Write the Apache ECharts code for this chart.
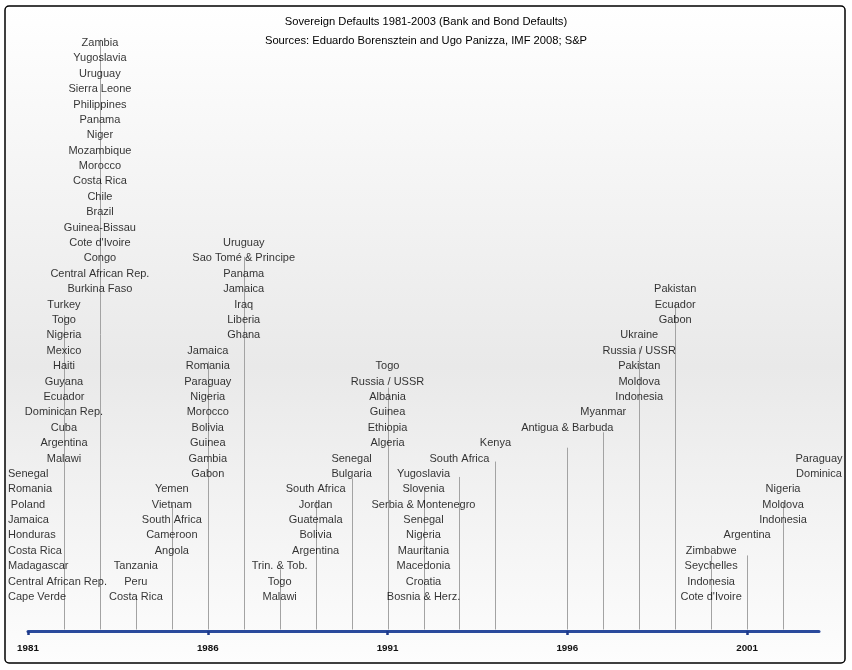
<!DOCTYPE html>
<html>
<head>
<meta charset="utf-8">
<title>Sovereign Defaults 1981-2003</title>
<script src="https://cdn.jsdelivr.net/npm/echarts@6/dist/echarts.min.js"></script>
<style>
  html, body { margin: 0; padding: 0; background: #fff; }
  #chart { width: 852px; height: 670px; }
</style>
</head>
<body>
<div id="chart"></div>
<script>
// years on the timeline
var years = [1981, 1982, 1983, 1984, 1985, 1986, 1987, 1988, 1989, 1990, 1991,
  1992, 1993, 1994, 1995, 1996, 1997, 1998, 1999, 2000, 2001, 2002, 2003];

// countries defaulting in each year, listed top to bottom as they are stacked
var defaults = [
  ['Senegal', 'Romania', 'Poland', 'Jamaica', 'Honduras', 'Costa Rica', 'Madagascar', 'Central African Rep.', 'Cape Verde'],
  ['Turkey', 'Togo', 'Nigeria', 'Mexico', 'Haiti', 'Guyana', 'Ecuador', 'Dominican Rep.', 'Cuba', 'Argentina', 'Malawi'],
  ['Zambia', 'Yugoslavia', 'Uruguay', 'Sierra Leone', 'Philippines', 'Panama', 'Niger', 'Mozambique', 'Morocco', 'Costa Rica',
   'Chile', 'Brazil', 'Guinea-Bissau', "Cote d'Ivoire", 'Congo', 'Central African Rep.', 'Burkina Faso'],
  ['Tanzania', 'Peru', 'Costa Rica'],
  ['Yemen', 'Vietnam', 'South Africa', 'Cameroon', 'Angola'],
  ['Jamaica', 'Romania', 'Paraguay', 'Nigeria', 'Morocco', 'Bolivia', 'Guinea', 'Gambia', 'Gabon'],
  ['Uruguay', 'Sao Tomé & Principe', 'Panama', 'Jamaica', 'Iraq', 'Liberia', 'Ghana'],
  ['Trin. & Tob.', 'Togo', 'Malawi'],
  ['South Africa', 'Jordan', 'Guatemala', 'Bolivia', 'Argentina'],
  ['Senegal', 'Bulgaria'],
  ['Togo', 'Russia / USSR', 'Albania', 'Guinea', 'Ethiopia', 'Algeria'],
  ['Yugoslavia', 'Slovenia', 'Serbia & Montenegro', 'Senegal', 'Nigeria', 'Mauritania', 'Macedonia', 'Croatia', 'Bosnia & Herz.'],
  ['South Africa'],
  ['Kenya'],
  [],
  ['Antigua & Barbuda'],
  ['Myanmar'],
  ['Ukraine', 'Russia / USSR', 'Pakistan', 'Moldova', 'Indonesia'],
  ['Pakistan', 'Ecuador', 'Gabon'],
  ['Zimbabwe', 'Seychelles', 'Indonesia', "Cote d'Ivoire"],
  ['Argentina'],
  ['Nigeria', 'Moldova', 'Indonesia'],
  ['Paraguay', 'Dominica']
];

// row (in label rows) of the lowest label of each year's stack
var baseRow = [0, 9, 20, 0, 3, 8, 17, 0, 3, 8, 10, 0, 9, 10, null, 11, 12, 13, 18, 0, 4, 5, 8];

// height (in label rows) reached by each year's drop line
var lineTop = [null, 18.3, 36.2, 0.1, 6.0, 15.3, 22.1, 1.8, 6.3, 7.7, 13.6, 7.1, 7.8, 8.8, null,
  9.7, 10.7, 16.2, 19.1, 2.7, 2.7, 6.1, null];

var tickYears = [1981, 1986, 1991, 1996, 2001];

var Y_MIN = -2.21;
var Y_MAX = 36.19;
var FONT = "'Liberation Sans', Arial, sans-serif";

var labelData = [];
years.forEach(function (year, i) {
  var list = defaults[i];
  list.forEach(function (name, j) {
    labelData.push({ name: name, value: [year, baseRow[i] + (list.length - 1 - j)] });
  });
});

var lineData = [];
years.forEach(function (year, i) {
  if (lineTop[i] != null) lineData.push([year, lineTop[i]]);
});

var chart = echarts.init(document.getElementById('chart'), null, { renderer: 'canvas' });
chart.setOption({
  animation: false,
  backgroundColor: '#ffffff',
  graphic: [{
    type: 'rect',
    z: -10,
    silent: true,
    shape: { x: 5, y: 6, width: 840, height: 657, r: 4 },
    style: {
      fill: new echarts.graphic.LinearGradient(0, 0, 0, 1, [
        { offset: 0, color: '#ffffff' },
        { offset: 0.55, color: '#e9e9e9' },
        { offset: 1, color: '#fdfdfd' }
      ]),
      stroke: '#000000',
      lineWidth: 1.5
    }
  }],
  title: {
    text: 'Sovereign Defaults 1981-2003 (Bank and Bond Defaults)\nSources: Eduardo Borensztein and Ugo Panizza, IMF 2008; S&P',
    left: 'center',
    top: 7,
    textStyle: {
      fontFamily: FONT,
      fontSize: 11.2,
      fontWeight: 'normal',
      color: '#000000',
      lineHeight: 19
    }
  },
  grid: { left: 28, right: 33, top: 40, bottom: 39 },
  xAxis: {
    type: 'value',
    min: 1981,
    max: 2003,
    splitLine: { show: false },
    axisLine: { show: true, onZero: false, lineStyle: { color: '#2a4a9c', width: 3, cap: 'round' } },
    axisTick: { show: true, customValues: tickYears, length: 4, lineStyle: { color: '#1e3a8a', width: 2.5 } },
    axisLabel: {
      customValues: tickYears,
      formatter: function (v) { return String(v); },
      margin: 12,
      fontFamily: FONT,
      fontSize: 9.8,
      fontWeight: 'bold',
      color: '#111111'
    }
  },
  yAxis: {
    type: 'value',
    show: false,
    min: Y_MIN,
    max: Y_MAX
  },
  series: [{
    type: 'custom',
    z: 1,
    silent: true,
    data: lineData,
    renderItem: function (params, api) {
      var top = api.coord([api.value(0), api.value(1)]);
      var base = api.coord([api.value(0), Y_MIN]);
      var x = Math.round(top[0]) + 0.5;
      return {
        type: 'line',
        shape: { x1: x, y1: base[1] - 1.5, x2: x, y2: top[1] },
        style: { stroke: '#a3a3a3', lineWidth: 1 }
      };
    }
  }, {
    type: 'scatter',
    z: 3,
    silent: true,
    symbol: 'circle',
    symbolSize: 0.1,
    itemStyle: { color: 'rgba(0,0,0,0)' },
    data: labelData,
    label: {
      show: true,
      position: 'inside',
      formatter: '{b}',
      fontFamily: FONT,
      fontSize: 11,
      color: '#000000'
    },
    labelLayout: function (params) {
      var r = params.labelRect;
      if (r.x < 8) {
        return { x: 8, y: r.y + r.height / 2, align: 'left', verticalAlign: 'middle' };
      }
    },
    emphasis: { disabled: true }
  }]
});
</script>
</body>
</html>
